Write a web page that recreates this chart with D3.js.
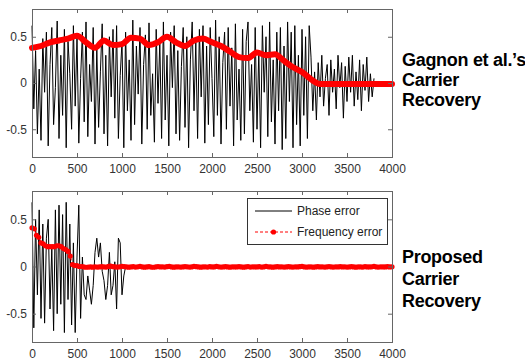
<!DOCTYPE html>
<html lang="en">
<head>
<meta charset="UTF-8">
<title>Carrier recovery: phase and frequency error</title>
<script src="https://cdnjs.cloudflare.com/ajax/libs/d3/7.8.5/d3.min.js"></script>
<style>
    body { margin: 0; background: #fff; }
    svg { display: block; }
    .tick text { font-family: "Liberation Sans", Arial, sans-serif; font-size: 12px; fill: #333; }
    .tick line, .domain { stroke: #666; }
    .side { font-family: "Liberation Sans", Arial, sans-serif; font-size: 18px; font-weight: bold; letter-spacing: -0.3px; fill: #000; }
    .legend text { font-family: "Liberation Sans", Arial, sans-serif; font-size: 12px; fill: #222; }
</style>
</head>
<body>
<svg width="525" height="363"></svg>
<script>
// x ticks, y ticks
const xTicks = [0, 500, 1000, 1500, 2000, 2500, 3000, 3500, 4000];
const yTicks = [-0.5, 0, 0.5];

// top plot: Gagnon et al. -- phase error sampled every 20, frequency error every 100
const phaseStepTop = 20;
const phaseTop = [
    0.62,-0.28,0.35,-0.55,0.15,-0.62,0.48,-0.1,0.55,-0.68,0.2,0.6,-0.45,-0.05,0.67,-0.6,0.3,-0.35,0.58,-0.7,
    0.45,0.1,-0.5,0.62,-0.25,0.5,-0.65,0.05,0.55,-0.42,0.66,-0.58,0.2,-0.2,0.6,-0.66,0.38,-0.48,0.12,0.64,
    -0.55,0.3,-0.68,0.5,-0.15,0.58,-0.38,0.62,-0.6,0.08,0.45,-0.7,0.55,-0.3,0.25,-0.62,0.68,-0.45,0.4,-0.12,
    0.6,-0.66,0.2,0.52,-0.5,0.65,-0.35,0.1,-0.64,0.58,-0.22,0.45,-0.6,0.66,-0.4,0.3,-0.68,0.55,-0.05,0.62,
    -0.55,0.35,-0.62,0.18,0.6,-0.48,0.5,-0.7,0.25,0.66,-0.3,0.44,-0.6,0.58,-0.15,0.62,-0.65,0.4,-0.45,0.6,
    0.05,-0.58,0.68,-0.35,0.5,-0.66,0.22,0.55,-0.5,0.6,-0.25,0.38,-0.68,0.64,-0.4,0.15,-0.62,0.58,-0.55,0.45,
    0.66,-0.3,0.2,-0.64,0.6,-0.5,0.35,-0.7,0.62,-0.1,0.5,-0.58,0.66,-0.42,0.25,-0.66,0.55,-0.3,0.6,-0.72,
    0.4,-0.6,0.66,-0.2,0.55,-0.7,0.62,-0.45,0.3,-0.68,0.58,-0.35,0.5,-0.6,0.62,
    0.28,-0.3,0.12,-0.4,0.22,-0.15,0.3,-0.25,0.05,0.2,-0.35,0.25,-0.1,0.15,-0.28,0.3,-0.05,0.22,-0.38,0.18,
    -0.2,0.28,-0.1,0.3,-0.25,0.12,-0.18,0.25,-0.3,0.2,-0.08,0.28,-0.2,0.1,-0.15,0.05
];
const freqStepTop = 100;
const freqTop = [
    0.38,0.40,0.44,0.46,0.48,0.51,0.44,0.38,0.46,0.41,
    0.42,0.49,0.48,0.41,0.44,0.50,0.44,0.40,0.46,0.48,
    0.44,0.40,0.34,0.28,0.27,0.33,0.30,0.31,0.24,0.17,
    0.12,0.04,-0.01,-0.01,-0.01,-0.01,-0.01,-0.01,-0.01,-0.01,-0.01
];

// bottom plot: proposed -- phase error every 20, frequency error every 25
const phaseStepBot = 20;
const phaseBot = [
    0.68,-0.65,0.5,-0.3,0.6,-0.55,0.45,-0.6,0.3,0.5,-0.45,0.2,-0.68,0.6,-0.5,0.65,-0.4,0.55,-0.7,0.68,
    -0.35,0.45,-0.62,0.25,-0.7,0.1,0.65,
    -0.55,0.1,-0.3,-0.35,-0.1,-0.25,-0.4,-0.2,0.15,0.3,0.1,0.25,-0.05,-0.15,-0.35,-0.2,0.15,-0.3,-0.2,
    0.05,-0.45,0.3,0.25,-0.3,-0.1,0.0,0.0
];
const freqStepBot = 25;
const freqBot = [
    0.41,0.40,0.33,0.31,0.25,0.24,0.22,0.21,0.21,0.21,0.21,0.22,0.22,0.21,0.19,0.18,0.16,0.11,0.02,0.01,
    0.01,0.0,0.0,
    -0.005,-0.008,-0.006,-0.004,-0.007,-0.003,-0.006,-0.005,-0.002,-0.004,-0.006,0.001,0.003,-0.002,-0.004,-0.006,-0.003,0.002,-0.001,-0.005,-0.007,-0.004,-0.002,
    -0.006,-0.003,0.001,-0.004,-0.007,-0.005,-0.002,-0.006,-0.008,-0.004,-0.001,-0.005,-0.003,-0.006,-0.002,0.001,-0.004,-0.007,-0.005,-0.003,-0.006,-0.004,-0.002,
    -0.003,-0.006,-0.004,0.002,-0.002,-0.005,-0.007,-0.004,-0.003,-0.006,-0.002,-0.005,-0.004,0.001,-0.003,-0.006,-0.005,-0.002,-0.004,-0.007,-0.003,-0.005,-0.004,
    -0.002,-0.005,-0.007,-0.004,-0.001,-0.006,-0.003,-0.005,-0.004,-0.002,-0.006,-0.004,0.002,-0.003,-0.005,-0.007,-0.004,-0.002,-0.005,-0.003,-0.006,-0.004,-0.002,
    -0.004,-0.006,-0.003,-0.005,-0.002,0.001,-0.004,-0.006,-0.005,-0.003,-0.007,-0.004,-0.002,-0.005,-0.003,-0.006,-0.004,-0.001,-0.005,-0.006,-0.003,-0.004,-0.002,
    -0.005,-0.003,-0.006,-0.004,-0.002,-0.005,-0.007,-0.003,-0.004,-0.006,-0.002,-0.004,-0.005,-0.003,0.001,-0.004,-0.006,-0.003,-0.005,-0.004,-0.002,-0.004,-0.003
];

const sideTop = ["Gagnon et al.\u2019s", "Carrier", "Recovery"];
const sideBot = ["Proposed", "Carrier", "Recovery"];
const legendLabels = ["Phase error", "Frequency error"];

const svg = d3.select("svg");

const x = d3.scaleLinear().domain([0, 4000]).range([32, 392]);

function panel(top, bottom, phase, phaseStep, freq, freqStep, thick) {
    const y = d3.scaleLinear().domain([-0.8, 0.8]).range([bottom, top]);
    const g = svg.append("g");

    g.append("rect")
        .attr("x", x(0)).attr("y", top)
        .attr("width", x(4000) - x(0)).attr("height", bottom - top)
        .attr("fill", "#fff");

    const line = d3.line()
        .x((d, i) => x(i * phaseStep))
        .y(d => y(d));
    g.append("path")
        .datum(phase)
        .attr("d", line)
        .attr("fill", "none")
        .attr("stroke", "#000")
        .attr("stroke-width", 1);

    const fline = d3.line()
        .x((d, i) => x(i * freqStep))
        .y(d => y(d));
    if (thick) {
        g.append("path")
            .datum(freq)
            .attr("d", fline.curve(d3.curveMonotoneX))
            .attr("fill", "none")
            .attr("stroke", "#ff0000")
            .attr("stroke-width", 6)
            .attr("stroke-linecap", "round")
            .attr("stroke-linejoin", "round");
    } else {
        g.append("path")
            .datum(freq)
            .attr("d", fline)
            .attr("fill", "none")
            .attr("stroke", "#ff0000")
            .attr("stroke-width", 1)
            .attr("stroke-dasharray", "3,2");
        g.selectAll("circle.freq")
            .data(freq)
            .join("circle").attr("class", "freq")
                .attr("cx", (d, i) => x(i * freqStep))
                .attr("cy", d => y(d))
                .attr("r", 2.6)
                .attr("fill", "#ff0000");
    }

    // axes, MATLAB style box with inward ticks on all sides
    const fmt = d => String(d);
    g.append("g")
        .attr("transform", `translate(0,${bottom})`)
        .call(d3.axisBottom(x).tickValues(xTicks).tickFormat(fmt).tickSize(-4).tickSizeOuter(0).tickPadding(7));
    g.append("g")
        .attr("transform", `translate(0,${top})`)
        .call(d3.axisTop(x).tickValues(xTicks).tickFormat("").tickSize(-4).tickSizeOuter(0));
    g.append("g")
        .attr("transform", `translate(${x(0)},0)`)
        .call(d3.axisLeft(y).tickValues(yTicks).tickFormat(fmt).tickSize(-4).tickSizeOuter(0).tickPadding(5));
    g.append("g")
        .attr("transform", `translate(${x(4000)},0)`)
        .call(d3.axisRight(y).tickValues(yTicks).tickFormat("").tickSize(-4).tickSizeOuter(0));
    g.selectAll(".domain").attr("shape-rendering", "crispEdges");
    return y;
}

panel(9, 157, phaseTop, phaseStepTop, freqTop, freqStepTop, true);
panel(191, 342, phaseBot, phaseStepBot, freqBot, freqStepBot, false);

// side captions
svg.append("text").attr("class", "side")
    .selectAll("tspan").data(sideTop).join("tspan")
        .attr("x", 402).attr("y", (d, i) => 66 + i * 20)
        .text(d => d);
svg.append("text").attr("class", "side")
    .selectAll("tspan").data(sideBot).join("tspan")
        .attr("x", 402).attr("y", (d, i) => 263 + i * 22)
        .text(d => d);

// legend
const lg = svg.append("g").attr("class", "legend");
lg.append("rect")
    .attr("x", 247.5).attr("y", 198.5).attr("width", 140).attr("height", 46)
    .attr("fill", "#fff").attr("stroke", "#333");
lg.append("line")
    .attr("x1", 255).attr("x2", 292).attr("y1", 211).attr("y2", 211)
    .attr("stroke", "#000");
lg.append("line")
    .attr("x1", 255).attr("x2", 292).attr("y1", 232).attr("y2", 232)
    .attr("stroke", "#ff0000").attr("stroke-dasharray", "3,2");
lg.append("circle")
    .attr("cx", 273.5).attr("cy", 232).attr("r", 2.6).attr("fill", "#ff0000");
lg.selectAll("text.lab").data(legendLabels).join("text").attr("class", "lab")
    .attr("x", 297).attr("y", (d, i) => 215 + i * 21)
    .text(d => d);
</script>
</body>
</html>
